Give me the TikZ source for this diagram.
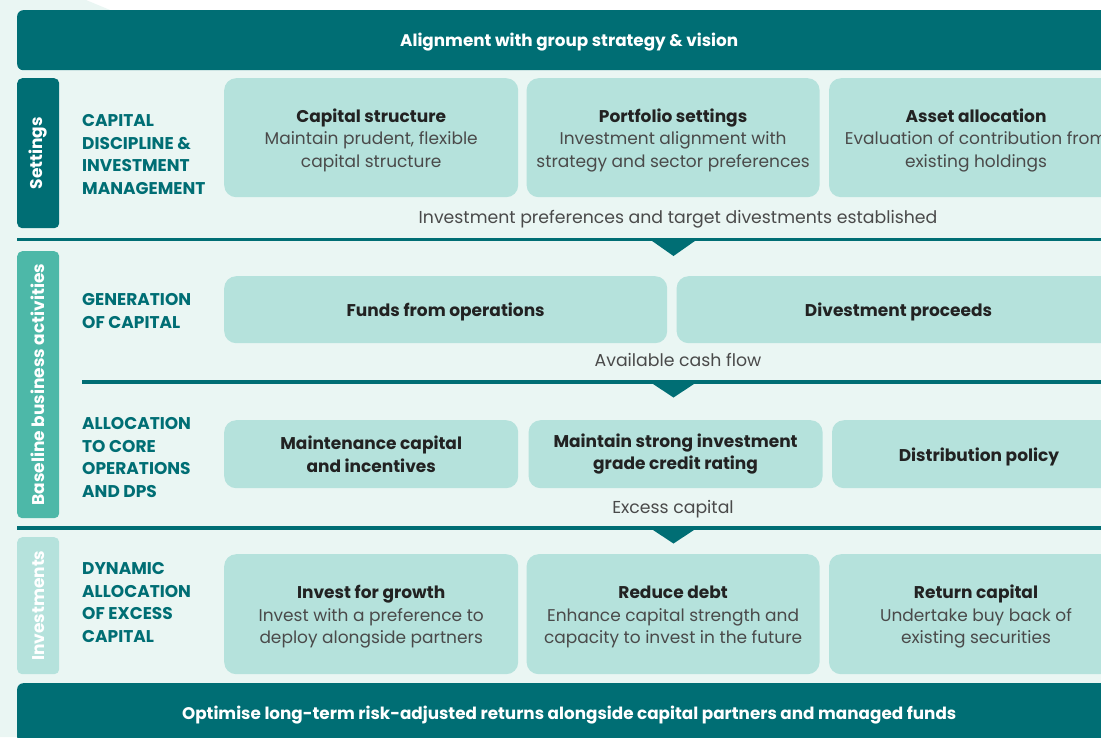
\documentclass[tikz,border=0pt]{standalone}
\usepackage{fontspec}
\setmainfont{Poppins}
\usetikzlibrary{positioning}
\definecolor{darkteal}{HTML}{006E74}
\definecolor{midteal}{HTML}{4DB8A8}
\definecolor{paleteal}{HTML}{B5E2DC}
\definecolor{mintbg}{HTML}{EAF6F3}
\definecolor{bodygray}{HTML}{4A4A4A}
\definecolor{titleblack}{HTML}{222222}
\newcommand{\subline}[1]{{\color{bodygray}#1}}
\newcommand{\boxtitle}[1]{\rule{0pt}{19pt}\textbf{#1}}

\begin{document}
\begin{tikzpicture}
	[x=1pt,y=-1pt,
	 banner/.style={rectangle,rounded corners=6pt,fill=darkteal,text=white,text height=12pt,text depth=0pt,
	   font=\bfseries\fontsize{16.8}{20}\selectfont,minimum width=1104pt,minimum height=60pt,anchor=north west},
	 sidebar/.style={rectangle,rounded corners=5pt,minimum width=42pt,anchor=north west,inner sep=0pt},
	 sidetext/.style={rotate=90,text=white,font=\bfseries\fontsize{17}{20}\selectfont},
	 rowlabel/.style={anchor=west,align=left,inner sep=0pt,text=darkteal,
	   font=\bfseries\fontsize{17}{22.5}\selectfont},
	 box/.style={rectangle,rounded corners=12pt,fill=paleteal,align=center,inner sep=0pt,
	   text=titleblack,font=\fontsize{17}{22.5}\selectfont},
	 note/.style={text=bodygray,font=\fontsize{17.3}{20}\selectfont,inner sep=0pt,text height=12pt,text depth=0pt},
	 divider/.style={draw=darkteal,line width=3.5pt},
	 notch/.style={fill=darkteal}]
	\useasboundingbox (0,0) rectangle (1101,737);
	\clip (0,0) rectangle (1101,737);
	% background
	\fill[white] (0,0) rectangle (1101,737);
	\fill[mintbg] (0,0) -- (86,0) -- (110,10) -- (1101,10) -- (1101,737) -- (0,737) -- cycle;

	% banners
	\node (top) [banner] at (17,10) {Alignment with group strategy \& vision};
	\node (bottom) [banner] at (17,683) {Optimise long-term risk-adjusted returns alongside capital partners and managed funds};

	% side bars
	\node (settings) [sidebar,fill=darkteal,minimum height=150pt] at (17,78) {};
	\node [sidetext] at (settings) {Settings};
	\node (baseline) [sidebar,fill=midteal,minimum height=267pt] at (17,251) {};
	\node [sidetext] at (baseline) {Baseline business activities};
	\node (investments) [sidebar,fill=paleteal,minimum height=137pt] at (17,537) {};
	\node [sidetext] at (investments) {Investments};

	% row labels
	\node (lab1) [rowlabel] at (82,154.5) {CAPITAL\\DISCIPLINE \&\\INVESTMENT\\MANAGEMENT};
	\node (lab2) [rowlabel] at (82,311) {GENERATION\\OF CAPITAL};
	\node (lab3) [rowlabel] at (82,457.5) {ALLOCATION\\TO CORE\\OPERATIONS\\AND DPS};
	\node (lab4) [rowlabel] at (82,602.5) {DYNAMIC\\ALLOCATION\\OF EXCESS\\CAPITAL};

	% settings row
	\node (cs) [box,minimum width=294pt,minimum height=119pt,anchor=north west] at (224,78)
	  {\boxtitle{Capital structure}\\\subline{Maintain prudent, flexible}\\\subline{capital structure}};
	\node (ps) [box,minimum width=293pt,minimum height=119pt,right=8pt of cs]
	  {\boxtitle{Portfolio settings}\\\subline{Investment alignment with}\\\subline{strategy and sector preferences}};
	\node (aa) [box,minimum width=294pt,minimum height=119pt,right=9pt of ps]
	  {\boxtitle{Asset allocation}\\\subline{Evaluation of contribution from}\\\subline{existing holdings}};
	\node (est) [note] at (678,217) {Investment preferences and target divestments established};
	\draw[divider] (17,239.5) -- (1101,239.5);
	\fill[notch] (650,239.5) -- (697,239.5) -- (673.5,256) -- cycle;

	% generation row
	\node (ffo) [box,minimum width=443pt,minimum height=67pt,anchor=north west] at (224,276)
	  {\boxtitle{Funds from operations}};
	\node (dp) [box,minimum width=444pt,minimum height=67pt,right=9pt of ffo]
	  {\boxtitle{Divestment proceeds}};
	\node (cash) [note] at (678,360) {Available cash flow};
	\draw[divider] (82,382) -- (1101,382);
	\fill[notch] (650,382) -- (697,382) -- (673.5,397.5) -- cycle;

	% allocation row
	\node (mc) [box,minimum width=294pt,minimum height=68pt,anchor=north west] at (224,420)
	  {\textbf{Maintenance capital}\\\textbf{and incentives}};
	\node (cr) [box,minimum width=294pt,minimum height=68pt,right=10pt of mc]
	  {\textbf{Maintain strong investment}\\\textbf{grade credit rating}};
	\node (dist) [box,minimum width=294pt,minimum height=68pt,right=9pt of cr]
	  {\boxtitle{Distribution policy}};
	\node (excess) [note] at (673,507) {Excess capital};
	\draw[divider] (17,528) -- (1101,528);
	\fill[notch] (650,528) -- (697,528) -- (673.5,543.5) -- cycle;

	% investments row
	\node (ig) [box,minimum width=294pt,minimum height=120pt,anchor=north west] at (224,554)
	  {\boxtitle{Invest for growth}\\\subline{Invest with a preference to}\\\subline{deploy alongside partners}};
	\node (rd) [box,minimum width=293pt,minimum height=120pt,right=8pt of ig]
	  {\boxtitle{Reduce debt}\\\subline{Enhance capital strength and}\\\subline{capacity to invest in the future}};
	\node (rc) [box,minimum width=294pt,minimum height=120pt,right=9pt of rd]
	  {\boxtitle{Return capital}\\\subline{Undertake buy back of}\\\subline{existing securities}};
\end{tikzpicture}
\end{document}
